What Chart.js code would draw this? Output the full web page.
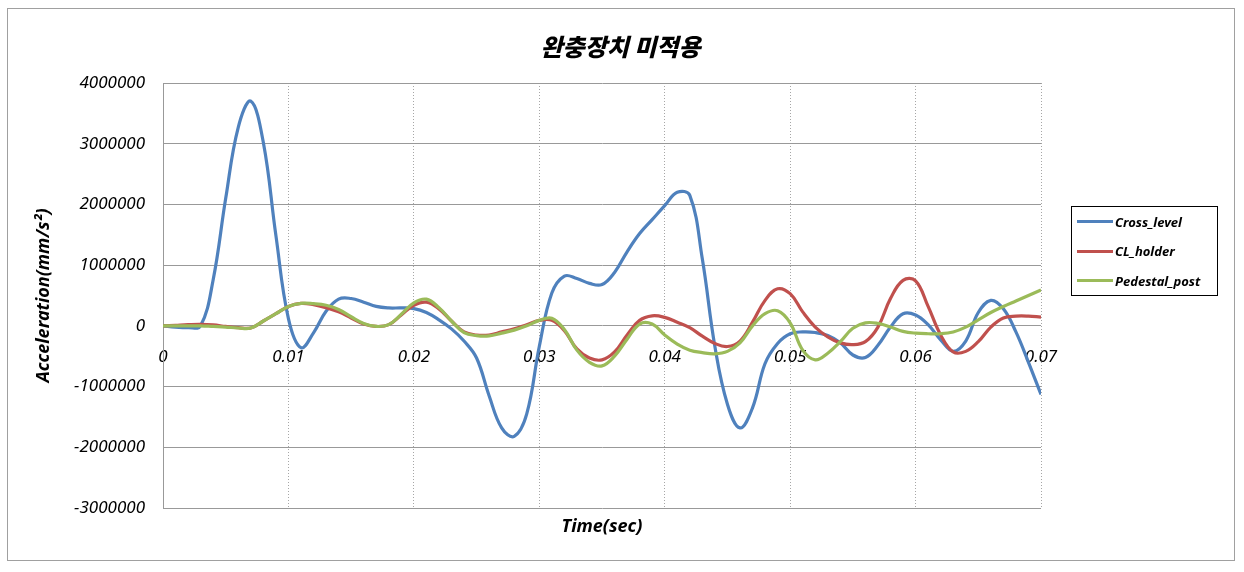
<!DOCTYPE html>
<html>
<head>
<meta charset="utf-8">
<script src="https://cdn.jsdelivr.net/npm/chart.js@4/dist/chart.umd.min.js"></script>
<style>
  body { margin: 0; background: #fff; font-family: "Noto Sans", sans-serif; }
  #wrap { position: absolute; left: 7px; top: 8px; width: 1226px; height: 551px; border: 1px solid #a0a0a0; }
  #title { position: absolute; left: 0; width: 1241px; top: 28px; line-height: 28px; text-align: center;
           font: italic 900 24px "Noto Sans CJK KR", sans-serif; color: #000; }
  #legend { position: absolute; left: 1071px; top: 206px; width: 145px; height: 88px; border: 1px solid #000; }
  #legend .item { display: flex; align-items: center; height: 29.5px; }
  #legend .swatch { width: 36px; height: 3px; margin: 0 2px 0 5px; }
  #legend .text { font: italic bold 13px "Noto Sans", sans-serif; color: #000; }
</style>
</head>
<body>
<div id="wrap"><canvas id="chart"></canvas></div>
<div id="title">완충장치 미적용</div>
<div id="legend"></div>
<script>
// Time (sec)
const times = [0, 0.001, 0.002, 0.003, 0.004, 0.005, 0.006, 0.007, 0.008, 0.009,
  0.010, 0.011, 0.012, 0.013, 0.014, 0.015, 0.016, 0.017, 0.018, 0.019,
  0.020, 0.021, 0.022, 0.023, 0.024, 0.025, 0.026, 0.027, 0.028, 0.029,
  0.030, 0.031, 0.032, 0.033, 0.034, 0.035, 0.036, 0.037, 0.038, 0.039,
  0.040, 0.041, 0.042, 0.043, 0.044, 0.045, 0.046, 0.047, 0.048, 0.049,
  0.050, 0.051, 0.052, 0.053, 0.054, 0.055, 0.056, 0.057, 0.058, 0.059,
  0.060, 0.061, 0.062, 0.063, 0.064, 0.065, 0.066, 0.067, 0.068, 0.069, 0.070];

// Acceleration (mm/s^2)
const crossLevel = [0, -20000, -30000, 0, 760000, 2100000, 3270000, 3700000, 3020000, 1490000,
  120000, -360000, -115000, 240000, 440000, 450000, 390000, 320000, 295000, 295000,
  285000, 220000, 100000, -50000, -250000, -530000, -1150000, -1680000, -1820000, -1450000,
  -340000, 540000, 820000, 780000, 700000, 680000, 880000, 1220000, 1520000, 1750000,
  1980000, 2200000, 2150000, 1100000, -340000, -1290000, -1680000, -1350000, -620000, -290000,
  -130000, -100000, -110000, -160000, -280000, -480000, -520000, -320000, -20000, 200000,
  180000, 20000, -230000, -420000, -250000, 220000, 420000, 280000, -100000, -600000, -1130000];

const clHolder = [0, 10000, 20000, 25000, 15000, -10000, -30000, -35000, 80000, 200000,
  320000, 370000, 350000, 300000, 230000, 130000, 30000, -10000, 20000, 180000,
  340000, 390000, 280000, 80000, -100000, -150000, -150000, -100000, -50000, 20000,
  90000, 90000, -80000, -380000, -530000, -560000, -430000, -150000, 90000, 165000,
  140000, 60000, -30000, -170000, -290000, -340000, -250000, 60000, 420000, 610000,
  530000, 230000, -20000, -180000, -280000, -310000, -260000, -20000, 450000, 750000,
  740000, 320000, -150000, -430000, -420000, -260000, -20000, 130000, 160000, 160000, 145000];

const pedestalPost = [0, 0, 0, 0, -10000, -20000, -35000, -35000, 80000, 200000,
  320000, 370000, 365000, 340000, 270000, 150000, 40000, -10000, 20000, 190000,
  380000, 440000, 300000, 80000, -110000, -160000, -165000, -120000, -70000, 0,
  90000, 125000, -60000, -400000, -600000, -660000, -500000, -220000, 30000, 30000,
  -150000, -300000, -400000, -440000, -460000, -420000, -280000, 0, 200000, 250000,
  50000, -400000, -560000, -450000, -260000, -40000, 50000, 40000, -20000, -90000,
  -120000, -130000, -130000, -100000, -20000, 100000, 220000, 320000, 410000, 500000, 590000];

const seriesNames = ['Cross_level', 'CL_holder', 'Pedestal_post'];
const seriesColors = ['#4f81bd', '#c0504d', '#9bbb59'];
const seriesValues = [crossLevel, clHolder, pedestalPost];

const tickFont = { family: 'Noto Sans', size: 17, style: 'italic' };
const titleFont = { family: 'Noto Sans', size: 18, style: 'italic', weight: 'bold' };

const chart = new Chart(document.getElementById('chart'), {
  type: 'line',
  data: {
    datasets: seriesNames.map((name, i) => ({
      label: name,
      data: times.map((t, k) => ({ x: t, y: seriesValues[i][k] })),
      borderColor: seriesColors[i],
      backgroundColor: seriesColors[i],
      borderWidth: 3.2,
      pointRadius: 0,
      tension: 0.4,
      order: 2 - i
    }))
  },
  options: {
    responsive: true,
    maintainAspectRatio: false,
    animation: false,
    layout: { padding: { top: 74, right: 193, left: 0, bottom: 0 } },
    plugins: { legend: { display: false }, tooltip: { enabled: false } },
    scales: {
      x: {
        type: 'linear',
        position: { y: 0 },
        min: 0, max: 0.07,
        ticks: { stepSize: 0.01, color: '#000', font: tickFont, padding: 21, maxRotation: 0,
                 callback: v => String(+v.toFixed(2)) },
        grid: { color: '#a6a6a6', borderDash: [1, 2], drawTicks: false },
        border: { display: false, dash: [1, 2] }
      },
      xt: {
        type: 'linear',
        position: 'bottom',
        min: 0, max: 0.07,
        ticks: { display: false },
        grid: { display: false },
        border: { display: false },
        title: { display: true, text: 'Time(sec)', color: '#000', font: titleFont, padding: { top: 0, bottom: 22 } },
        afterFit: s => { s.height = 52; }
      },
      y: {
        min: -3000000, max: 4000000,
        ticks: { stepSize: 1000000, color: '#000', font: tickFont, padding: 18, callback: v => String(v) },
        grid: { color: '#999', drawTicks: false },
        border: { color: '#999' },
        title: { display: true, text: 'Acceleration(mm/s²)', color: '#000', font: titleFont, padding: { top: 25, bottom: 0 } },
        afterFit: s => { s.width = 155; }
      }
    }
  }
});

// HTML legend built from the datasets
document.getElementById('legend').innerHTML = chart.data.datasets.map(d =>
  `<div class="item"><span class="swatch" style="background:${d.borderColor}"></span><span class="text">${d.label}</span></div>`
).join('');
</script>
</body>
</html>
